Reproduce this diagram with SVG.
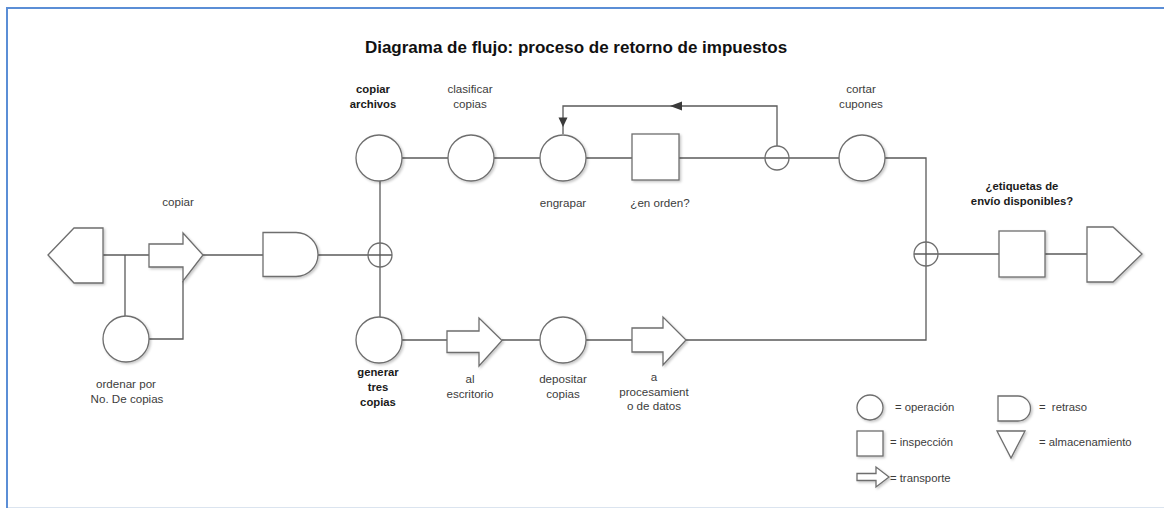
<svg xmlns="http://www.w3.org/2000/svg" width="1164" height="508" viewBox="0 0 1164 508">
<style>
.sh{fill:#fff;stroke:#6e6e6e;stroke-width:1.3;filter:url(#ds)}
.jn{fill:none;stroke:#6e6e6e;stroke-width:1.3}
.cn{fill:none;stroke:#5a5a5a;stroke-width:1.3}
.ah{fill:#3a3a3a;stroke:none}
text{font-family:"Liberation Sans",Arial,sans-serif}
.t{font-size:17px;font-weight:bold;fill:#111;text-anchor:middle}
.lb{font-size:11.6px;fill:#3c3c3c;text-anchor:middle}
.lbb{font-size:11.3px;font-weight:bold;fill:#1a1a1a;text-anchor:middle}
.lg{font-size:11.3px;fill:#3c3c3c}
</style>
<defs>
<filter id="ds" x="-20%" y="-20%" width="150%" height="150%">
<feDropShadow dx="1.5" dy="1.5" stdDeviation="1" flood-color="#000" flood-opacity="0.22"/>
</filter>
</defs>
<rect width="1164" height="508" fill="#fff"/>
<g id="frame">
<line x1="7" y1="8" x2="1164" y2="8" stroke="#5b8ed6" stroke-width="2"/>
<line x1="7" y1="7" x2="7" y2="508" stroke="#5b8ed6" stroke-width="2"/>
<line x1="8" y1="507.5" x2="1164" y2="507.5" stroke="#dbe4ef" stroke-width="1"/>
</g>
<text id="title" class="t" x="576" y="53">Diagrama de flujo: proceso de retorno de impuestos</text>

<g id="connectors">
<path class="cn" d="M103,255 H149"/>
<path class="cn" d="M125,255 V316"/>
<path class="cn" d="M149,339 H183 V281"/>
<path class="cn" d="M203,255 H263"/>
<path class="cn" d="M318,255 H392"/>
<path class="cn" d="M380,180 V317"/>
<path class="cn" d="M402,158 H448"/>
<path class="cn" d="M494,158 H540"/>
<path class="cn" d="M586,158 H632"/>
<path class="cn" d="M679,158 H839"/>
<path class="cn" d="M777,146 V106 H563 V134"/>
<polygon class="ah" points="670,106 682,101.5 682,110.5"/>
<polygon class="ah" points="558.5,117.5 567.5,117.5 563,127"/>
<path class="cn" d="M885,158 H926 V340 H686"/>
<path class="cn" d="M914,254 H999"/>
<path class="cn" d="M1045,254 H1087"/>
<path class="cn" d="M402,340 H447"/>
<path class="cn" d="M502,340 H540"/>
<path class="cn" d="M586,340 H632"/>
</g>

<g id="n_inicio"><polygon class="sh" points="48,255 74,228 103,228 103,283 74,283"/></g>
<g id="n_copiar">
<polygon class="sh" points="149,244 183,244 183,233 203,255 183,281 183,267 149,267"/>
<text class="lb" x="178" y="206">copiar</text>
</g>
<g id="n_ordenar">
<circle class="sh" cx="126" cy="339" r="23"/>
<text class="lb" x="126" y="388">ordenar por</text>
<text class="lb" x="127" y="403">No. De copias</text>
</g>
<g id="n_retraso"><path class="sh" d="M263,232.5 H296 A22,22 0 0 1 296,276.5 H263 Z"/></g>
<g id="n_union1"><circle class="jn" cx="380" cy="255" r="12"/></g>
<g id="n_copiar_archivos">
<circle class="sh" cx="379" cy="158" r="23"/>
<text class="lbb" x="373" y="93">copiar</text>
<text class="lbb" x="373" y="107.5">archivos</text>
</g>
<g id="n_clasificar">
<circle class="sh" cx="471" cy="158" r="23"/>
<text class="lb" x="470" y="93">clasificar</text>
<text class="lb" x="470" y="107.5">copias</text>
</g>
<g id="n_engrapar">
<circle class="sh" cx="563" cy="158" r="23"/>
<text class="lb" x="563" y="207">engrapar</text>
</g>
<g id="n_en_orden">
<rect class="sh" x="632" y="134" width="47" height="46"/>
<text class="lb" x="660" y="207">¿en orden?</text>
</g>
<g id="n_union2"><circle class="jn" cx="777" cy="158" r="12"/></g>
<g id="n_cortar">
<circle class="sh" cx="862" cy="158" r="23"/>
<text class="lb" x="861" y="93">cortar</text>
<text class="lb" x="861" y="108">cupones</text>
</g>
<g id="n_union3"><circle class="jn" cx="926" cy="254" r="12"/></g>
<g id="n_etiquetas">
<rect class="sh" x="999" y="231" width="46" height="46"/>
<text class="lbb" x="1022" y="190">¿etiquetas de</text>
<text class="lbb" x="1022" y="205">envío disponibles?</text>
</g>
<g id="n_fin"><polygon class="sh" points="1087,227 1113,227 1142,254 1113,282 1087,282"/></g>
<g id="n_generar">
<circle class="sh" cx="379" cy="340" r="23"/>
<text class="lbb" x="378" y="376">generar</text>
<text class="lbb" x="378" y="391">tres</text>
<text class="lbb" x="378" y="406">copias</text>
</g>
<g id="n_escritorio">
<polygon class="sh" points="447,331 479,331 479,318 502,340.5 479,366 479,352.5 447,352.5"/>
<text class="lb" x="470" y="383">al</text>
<text class="lb" x="470" y="397.5">escritorio</text>
</g>
<g id="n_depositar">
<circle class="sh" cx="563" cy="340" r="23"/>
<text class="lb" x="563" y="383">depositar</text>
<text class="lb" x="563" y="397.5">copias</text>
</g>
<g id="n_procesamiento">
<polygon class="sh" points="632,328 663,328 663,317 686,340 663,365 663,352 632,352"/>
<text class="lb" x="654" y="381">a</text>
<text class="lb" x="654" y="395.5">procesamient</text>
<text class="lb" x="654" y="410">o de datos</text>
</g>

<g id="legend">
<ellipse class="sh" cx="870" cy="407.5" rx="13" ry="12.5"/>
<text class="lg" x="895" y="411">= operación</text>
<rect class="sh" x="857" y="431" width="26" height="25"/>
<text class="lg" x="890" y="446">= inspección</text>
<polygon class="sh" points="857,473.5 876,473.5 876,467 889,477 876,487 876,480.5 857,480.5"/>
<text class="lg" x="890" y="482">= transporte</text>
<path class="sh" d="M998,396 H1018 A12.5,12.5 0 0 1 1018,421 H998 Z"/>
<text class="lg" x="1039" y="411" xml:space="preserve">=  retraso</text>
<polygon class="sh" points="997,431 1025,431 1011,458"/>
<text class="lg" x="1039" y="446">= almacenamiento</text>
</g>
</svg>
